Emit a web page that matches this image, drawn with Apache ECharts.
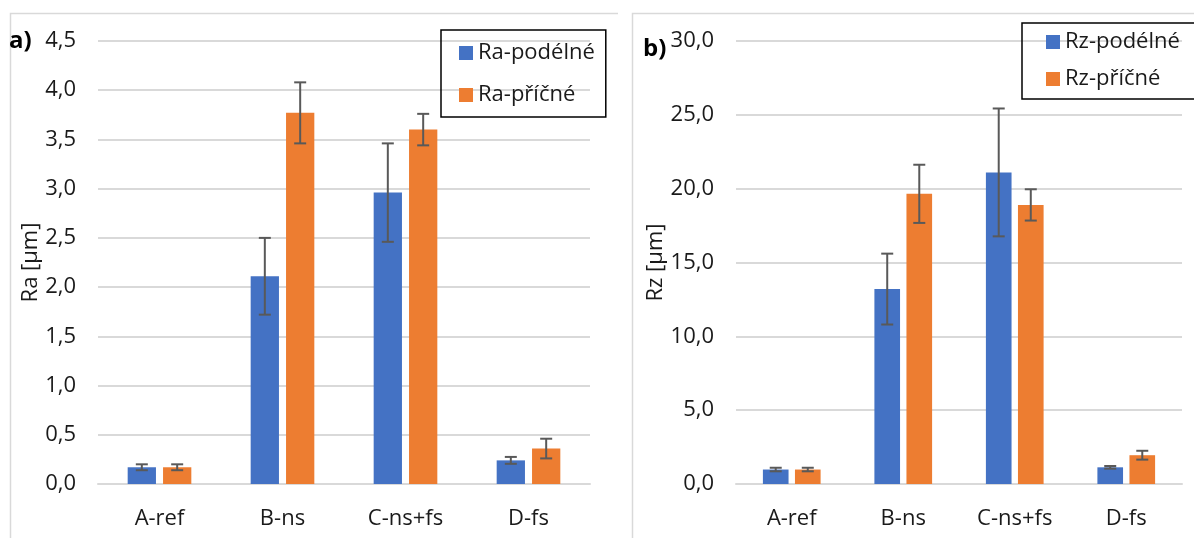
<!DOCTYPE html>
<html>
<head>
<meta charset="utf-8">
<script src="https://cdn.jsdelivr.net/npm/echarts@6/dist/echarts.min.js"></script>
<style>
  html, body { margin: 0; padding: 0; background: #fff; }
  #chart { width: 1194px; height: 538px; }
</style>
</head>
<body>
<div id="chart"></div>
<script>
// Surface roughness per specimen group (mean and standard deviation, µm)
const categories = ['A-ref', 'B-ns', 'C-ns+fs', 'D-fs'];

const raPodelne    = [0.17, 2.11, 2.96, 0.24];
const raPodelneErr = [0.03, 0.39, 0.50, 0.035];
const raPricne     = [0.17, 3.77, 3.60, 0.36];
const raPricneErr  = [0.03, 0.31, 0.16, 0.10];

const rzPodelne    = [0.98, 13.2, 21.1, 1.13];
const rzPodelneErr = [0.12, 2.40, 4.33, 0.09];
const rzPricne     = [0.98, 19.65, 18.9, 1.95];
const rzPricneErr  = [0.12, 1.97, 1.06, 0.30];

const raTicks = { min: 0, max: 4.5, interval: 0.5 };
const rzTicks = { min: 0, max: 30, interval: 5 };

const BLUE = '#4472C4';
const ORANGE = '#ED7D31';
const FONT = '"Open Sans"';
const FS = 22;
const BAR_W = 0.23;   // fraction of the category band
const BAR_GAP = 0.25; // fraction of the bar width

const chart = echarts.init(document.getElementById('chart'), null, { renderer: 'canvas' });

const fmt = v => v.toFixed(1).replace('.', ',');

function errorSeries(name, axisIdx, values, errs, side) {
  return {
    type: 'custom',
    name: name + '-err',
    xAxisIndex: axisIdx,
    yAxisIndex: axisIdx,
    silent: true,
    z: 5,
    data: values.map((v, i) => [i, v - errs[i], v + errs[i]]),
    renderItem(params, api) {
      const band = api.size([1, 0])[0];
      const bw = band * BAR_W;
      const off = side * bw * (1 + BAR_GAP) / 2;
      const lo = api.coord([api.value(0), api.value(1)]);
      const hi = api.coord([api.value(0), api.value(2)]);
      const x = lo[0] + off;
      const cap = 6;
      const style = { stroke: '#595959', lineWidth: 2 };
      return {
        type: 'group',
        children: [
          { type: 'line', shape: { x1: x, y1: lo[1], x2: x, y2: hi[1] }, style },
          { type: 'line', shape: { x1: x - cap, y1: lo[1], x2: x + cap, y2: lo[1] }, style },
          { type: 'line', shape: { x1: x - cap, y1: hi[1], x2: x + cap, y2: hi[1] }, style }
        ]
      };
    }
  };
}

function barSeries(name, axisIdx, values, color) {
  return {
    type: 'bar',
    name,
    xAxisIndex: axisIdx,
    yAxisIndex: axisIdx,
    data: values,
    barWidth: (BAR_W * 100) + '%',
    barGap: (BAR_GAP * 100) + '%',
    itemStyle: { color },
    emphasis: { disabled: true }
  };
}

function xAxis(gridIndex) {
  return {
    type: 'category',
    gridIndex,
    data: categories,
    axisLine: { lineStyle: { color: '#d9d9d9', width: 2 } },
    axisTick: { show: false },
    axisLabel: { color: '#1a1a1a', fontFamily: FONT, fontSize: FS, margin: 24 }
  };
}

function yAxis(gridIndex, ticks, name) {
  return {
    type: 'value',
    gridIndex,
    min: ticks.min,
    max: ticks.max,
    interval: ticks.interval,
    name,
    nameLocation: 'middle',
    nameGap: 55,
    nameTextStyle: { color: '#1a1a1a', fontFamily: FONT, fontSize: FS },
    axisLine: { show: false },
    axisTick: { show: false },
    axisLabel: { color: '#1a1a1a', fontFamily: FONT, fontSize: FS, margin: 22, formatter: fmt },
    splitLine: { lineStyle: { color: '#d9d9d9', width: 2 } }
  };
}

function legend(left, top, names, gap, padding) {
  return {
    left, top,
    orient: 'vertical',
    data: names,
    icon: 'rect',
    itemWidth: 14,
    itemHeight: 14,
    itemGap: gap,
    padding,
    borderColor: '#000',
    borderWidth: 1.5,
    selectedMode: false,
    textStyle: { color: '#1a1a1a', fontFamily: FONT, fontSize: FS }
  };
}

chart.setOption({
  animation: false,
  backgroundColor: '#fff',
  grid: [
    { left: 98, top: 41, width: 492, height: 443 },
    { left: 736, top: 41, width: 446, height: 443 }
  ],
  xAxis: [xAxis(0), xAxis(1)],
  yAxis: [yAxis(0, raTicks, 'Ra [µm]'), yAxis(1, rzTicks, 'Rz [µm]')],
  legend: [
    legend(441, 30, ['Ra-podélné', 'Ra-příčné'], 20, [12, 11, 11, 18]),
    legend(1022, 23, ['Rz-podélné', 'Rz-příčné'], 15, [8, 40, 9, 24])
  ],
  graphic: [
    { type: 'polyline', silent: true, z: -1,
      shape: { points: [[10.5, 545], [10.5, 13.5], [618, 13.5]] },
      style: { stroke: '#d9d9d9', lineWidth: 1.5, fill: null } },
    { type: 'polyline', silent: true, z: -1,
      shape: { points: [[632.5, 545], [632.5, 13.5], [1200, 13.5]] },
      style: { stroke: '#d9d9d9', lineWidth: 1.5, fill: null } },
    { type: 'text', left: 9, top: 29,
      style: { text: 'a)', fill: '#000', font: 'bold 24px ' + FONT } },
    { type: 'text', left: 643, top: 37,
      style: { text: 'b)', fill: '#000', font: 'bold 24px ' + FONT } }
  ],
  series: [
    barSeries('Ra-podélné', 0, raPodelne, BLUE),
    barSeries('Ra-příčné', 0, raPricne, ORANGE),
    errorSeries('Ra-podélné', 0, raPodelne, raPodelneErr, -1),
    errorSeries('Ra-příčné', 0, raPricne, raPricneErr, 1),
    barSeries('Rz-podélné', 1, rzPodelne, BLUE),
    barSeries('Rz-příčné', 1, rzPricne, ORANGE),
    errorSeries('Rz-podélné', 1, rzPodelne, rzPodelneErr, -1),
    errorSeries('Rz-příčné', 1, rzPricne, rzPricneErr, 1)
  ]
});
</script>
</body>
</html>
